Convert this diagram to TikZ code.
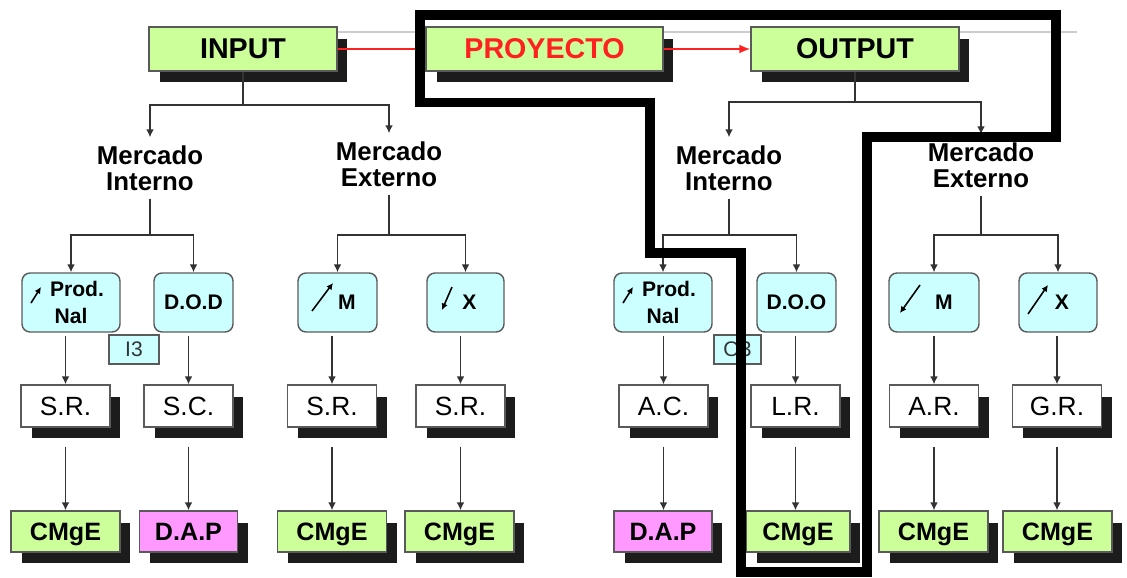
\documentclass[tikz,border=0pt]{standalone}
\usepackage{fontspec}
\setmainfont{Liberation Sans}
\usepackage{xcolor}
\usepackage{tikz}
\usetikzlibrary{arrows.meta,positioning,shadows,backgrounds}
\definecolor{boxgreen}{HTML}{CCFF99}
\definecolor{boxcyan}{HTML}{CCFFFF}
\definecolor{boxpink}{HTML}{FF99FF}
\definecolor{lineslate}{HTML}{333333}
\definecolor{rimgray}{HTML}{5A5A5A}
\definecolor{projred}{HTML}{FF2020}
\definecolor{shadowblack}{HTML}{1C1C1C}
\tikzset{
  boxshadow/.style={drop shadow={shadow xshift=0.21cm, shadow yshift=-0.23cm, fill=shadowblack, opacity=1}},
  flowbox/.style={draw=rimgray, fill=boxgreen, line width=0.8pt, align=center, font=\fontsize{16.3}{18}\selectfont\bfseries, minimum height=0.88cm, inner sep=2pt, boxshadow},
  market/.style={align=center, font=\fontsize{14.7}{14.7}\selectfont\bfseries, inner sep=0.16cm},
  demand/.style={rounded corners=0.16cm, draw=rimgray, fill=boxcyan, line width=0.8pt, align=center, font=\fontsize{12}{15.7}\selectfont\bfseries, minimum width=1.58cm, minimum height=1.18cm, inner sep=1pt},
  rate/.style={draw=rimgray, fill=white, line width=0.8pt, font=\fontsize{15}{17}\selectfont, minimum width=1.78cm, minimum height=0.84cm, inner sep=1pt, boxshadow},
  price/.style={draw=rimgray, fill=boxgreen, line width=0.8pt, font=\fontsize{14.3}{16}\selectfont\bfseries, text depth=0pt, minimum width=2.18cm, minimum height=0.82cm, inner sep=1pt, boxshadow},
  pricepink/.style={price, fill=boxpink, minimum width=1.96cm},
  tag/.style={draw=rimgray, fill=boxcyan, line width=0.6pt, font=\fontsize{12}{14}\selectfont, text=lineslate, minimum width=1.0cm, minimum height=0.58cm, inner sep=1pt},
  edge/.style={-{Latex[length=1.6mm, width=1.6mm]}, line width=0.9pt, draw=lineslate},
  trend/.style={-{Latex[length=1.3mm, width=1.3mm]}, line width=0.9pt, draw=black},
  redline/.style={line width=1.1pt, draw=projred},
  redarrow/.style={redline, -{Latex[length=2.2mm, width=1.8mm]}},
  faintedge/.style={line width=0.06cm, draw=gray!40},
  focusline/.style={draw=black, line width=0.2cm}
}
\begin{document}
\begin{tikzpicture}[x=0.02cm, y=-0.02cm]
  \useasboundingbox (0,0) rectangle (1127,578);
  % top row
  \node[flowbox, minimum width=3.76cm] (input) at (243,49) {INPUT};
  \node[flowbox, minimum width=4.74cm, text=projred] (proyecto) at (544.5,49) {PROYECTO};
  \node[flowbox, minimum width=4.16cm] (output) at (855,49) {OUTPUT};
  \coordinate (fadeend) at (1077,32);
  \begin{scope}[on background layer]
    \draw[faintedge] (input.east |- fadeend) -- (fadeend);
  \end{scope}
  \draw[redline] (input) -- (proyecto);
  \draw[redarrow] (proyecto) -- (output);

  % markets
  \node[market] (intin) at (150,168) {Mercado\\Interno};
  \node[market] (extin) at (389,164) {Mercado\\Externo};
  \node[market] (intout) at (729,168) {Mercado\\Interno};
  \node[market] (extout) at (981,165) {Mercado\\Externo};
  \coordinate (inlvl) at (0,105);
  \coordinate (outlvl) at (0,102);
  \coordinate (sublvl) at (0,235);
  \draw[edge] (input.south) -- (input.south |- inlvl) -| (intin.north);
  \draw[edge] (input.south) -- (input.south |- inlvl) -| (extin.north);
  \draw[edge] (output.south) -- (output.south |- outlvl) -| (intout.north);
  \draw[edge] (output.south) -- (output.south |- outlvl) -| (extout.north);

  % demand boxes
  \node[demand, minimum width=1.96cm] (prodI) at (71,302.5) {\hspace*{0.24cm}Prod.\\Nal};
  \node[demand] (dod) at (193.5,302.5) {D.O.D};
  \node[demand] (impI) at (337.5,302.5) {\hspace*{0.38cm}M};
  \node[demand, minimum width=1.54cm] (expI) at (465.5,302.5) {\hspace*{0.16cm}X};
  \node[demand, minimum width=1.96cm] (prodO) at (663,302.5) {\hspace*{0.24cm}Prod.\\Nal};
  \node[demand] (doo) at (796.5,302.5) {D.O.O};
  \node[demand, minimum width=1.8cm] (impO) at (934,302.5) {\hspace*{0.4cm}M};
  \node[demand, minimum width=1.56cm] (expO) at (1058,302.5) {\hspace*{0.16cm}X};
  \draw[trend] ([shift={(-40,0.5)}]prodI.center) -- ([shift={(-30,-15.5)}]prodI.center);
  \draw[trend] ([shift={(-25.5,8.5)}]impI.center) -- ([shift={(-4.5,-19.5)}]impI.center);
  \draw[trend] ([shift={(-13.5,-15.5)}]expI.center) -- ([shift={(-23.5,7.5)}]expI.center);
  \draw[trend] ([shift={(-40,0.5)}]prodO.center) -- ([shift={(-30,-15.5)}]prodO.center);
  \draw[trend] ([shift={(-14,-17.5)}]impO.center) -- ([shift={(-34,10.5)}]impO.center);
  \draw[trend] ([shift={(-30,11.5)}]expO.center) -- ([shift={(-10,-17.5)}]expO.center);
  \draw[edge] (intin.south) -- (intin.south |- sublvl) -| (prodI.north);
  \draw[edge] (intin.south) -- (intin.south |- sublvl) -| (dod.north);
  \draw[edge] (extin.south) -- (extin.south |- sublvl) -| (impI.north);
  \draw[edge] (extin.south) -- (extin.south |- sublvl) -| (expI.north);
  \draw[edge] (intout.south) -- (intout.south |- sublvl) -| (prodO.north);
  \draw[edge] (intout.south) -- (intout.south |- sublvl) -| (doo.north);
  \draw[edge] (extout.south) -- (extout.south |- sublvl) -| (impO.north);
  \draw[edge] (extout.south) -- (extout.south |- sublvl) -| (expO.north);
  \node[tag] (i3) at (134,349.5) {I3};
  \node[tag, minimum width=0.94cm] (o3) at (737.5,349.5) {O3};

  % rates
  \node[rate] (sr1) at (65.5,406) {S.R.};
  \node[rate] (sc) at (188.5,406) {S.C.};
  \node[rate] (sr2) at (332,406) {S.R.};
  \node[rate] (sr3) at (460.5,406) {S.R.};
  \node[rate] (ac) at (663.5,406) {A.C.};
  \node[rate] (lr) at (795.5,406) {L.R.};
  \node[rate] (ar) at (934,406) {A.R.};
  \node[rate] (gr) at (1057,406) {G.R.};
  \draw[edge, shorten <=0.06cm] (prodI.south -| sr1.north) -- (sr1.north);
  \draw[edge, shorten <=0.06cm] (dod.south -| sc.north) -- (sc.north);
  \draw[edge, shorten <=0.06cm] (impI.south -| sr2.north) -- (sr2.north);
  \draw[edge, shorten <=0.06cm] (expI.south -| sr3.north) -- (sr3.north);
  \draw[edge, shorten <=0.06cm] (prodO.south -| ac.north) -- (ac.north);
  \draw[edge, shorten <=0.06cm] (doo.south -| lr.north) -- (lr.north);
  \draw[edge, shorten <=0.06cm] (impO.south -| ar.north) -- (ar.north);
  \draw[edge, shorten <=0.06cm] (expO.south -| gr.north) -- (gr.north);

  % prices
  \node[price] (cmge1) at (65.5,531.5) {CMgE};
  \node[pricepink] (dap1) at (188.5,531.5) {D.A.P};
  \node[price] (cmge2) at (332,531.5) {CMgE};
  \node[price] (cmge3) at (459.5,531.5) {CMgE};
  \node[pricepink] (dap2) at (663,531.5) {D.A.P};
  \node[price, minimum width=2.08cm] (cmge4) at (798,531.5) {CMgE};
  \node[price] (cmge5) at (933.5,531.5) {CMgE};
  \node[price] (cmge6) at (1057.5,531.5) {CMgE};
  \draw[edge, shorten <=0.38cm] (sr1.south) -- (sr1.south |- cmge1.north);
  \draw[edge, shorten <=0.38cm] (sc.south) -- (sc.south |- dap1.north);
  \draw[edge, shorten <=0.38cm] (sr2.south) -- (sr2.south |- cmge2.north);
  \draw[edge, shorten <=0.38cm] (sr3.south) -- (sr3.south |- cmge3.north);
  \draw[edge, shorten <=0.38cm] (ac.south) -- (ac.south |- dap2.north);
  \draw[edge, shorten <=0.38cm] (lr.south) -- (lr.south |- cmge4.north);
  \draw[edge, shorten <=0.38cm] (ar.south) -- (ar.south |- cmge5.north);
  \draw[edge, shorten <=0.38cm] (gr.south) -- (gr.south |- cmge6.north);

  % highlighted project path
  \draw[focusline] (420,15) -- (1056,15) -- (1056,137) -- (867,137) -- (867,572)
    -- (741,572) -- (741,253) -- (650,253) -- (650,102.5) -- (420,102.5) -- cycle;
\end{tikzpicture}
\end{document}
